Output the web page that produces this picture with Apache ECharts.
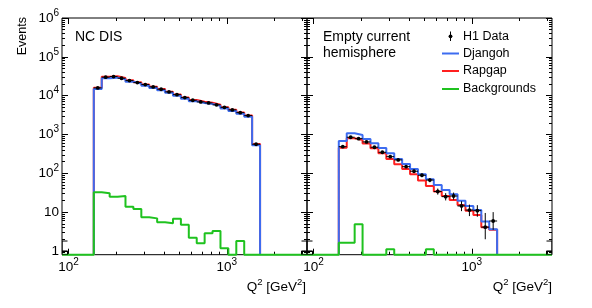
<!DOCTYPE html>
<html><head><meta charset="utf-8">
<script src="https://cdn.jsdelivr.net/npm/echarts@6/dist/echarts.min.js"></script>
<style>html,body{margin:0;padding:0;background:#fff}#c{width:592px;height:308px}</style>
</head><body><div id="c"></div>
<script>
// ---------- data ----------
const binEdges = [144.5,162.2,182.0,204.2,229.1,257.0,288.4,323.6,363.1,407.4,457.1,512.9,575.4,645.7,724.4,812.8,912.0,1023,1148,1288,1445,1622];
// Panel 1: NC DIS
const ncData    = [15800,29900,31000,28100,24400,21700,19300,16800,14600,12500,10600,8900,7600,6900,6500,5800,5000,4300,3650,3060,560];
const ncErr     = [130,170,180,170,160,150,140,130,120,110,100,95,87,83,80,76,71,66,60,55,24];
const ncDjangoh = [14900,28100,29100,26400,22900,20400,18100,15800,13700,11800,9960,8370,7140,6490,6110,5450,4700,4040,3430,2880,530];
const ncRapgap  = [16000,30500,31500,28500,24800,22000,19500,17000,14800,12600,10700,9000,7700,7000,6550,5850,5050,4350,3700,3100,565];
const ncBkg     = [32.5,30.6,25,26,13.8,12,7.4,6.9,5.5,5.2,6.7,4.7,2.2,1.57,2.85,3.27,1.17,0,1.8,0,0];
// Panel 2: empty current hemisphere
const echData    = [485,849,781,643,469,348,268,221,148,113,89,67,34,25,26,14.4,11.3,10.9,4.1,5.9];
const echErrLo   = [22,29,28,25,22,19,16,15,12,11,9.4,8.2,5.8,5,5.1,3.8,3.4,3.3,2.1,2.4];
const echErrHi   = [22,29,28,25,22,19,16,15,12,11,9.4,8.2,6.5,5.8,5.9,4.6,4.3,4.2,5.4,4.1];
const echDjangoh = [681,1076,973,767,594,450,328,234,174,129,94,70,50,37,29,19.7,14.4,11.3,5.7,3.6];
const echRapgap  = [455,800,722,581,442,328,234,171,129,94,65,47,34,26,20.6,15.3,10.9,8.4,4.1,3.5];
const echBkg     = [1.63,1.63,4.9,0,0,0,1.1,0,0,0,0,1.1,0,0,0,0,0,0,0,0];
// axes
const xMin = 91, xMax = 3210, yMin = 0.8, yMax = 1e6;
const xMajor = [100, 1000];
const xMinor = [200,300,400,500,600,700,800,900,2000,3000];
const yMajor = [1,10,100,1000,10000,100000,1000000];
const yMinor = [0.9];
for (let d = 1; d <= 100000; d *= 10) for (let k = 2; k <= 9; k++) yMinor.push(k * d);

const BLUE = '#3d6cf0', RED = '#ff1f1f', GREEN = '#1fc21f';
const FONT = '"Liberation Sans", Arial, Helvetica, sans-serif';

function stepLine(vals, extendFloor) {
  const pts = [];
  if (extendFloor) pts.push([xMin, yMin]);
  pts.push([binEdges[0], yMin]);
  for (let i = 0; i < vals.length; i++) {
    const v = vals[i] > 0 ? vals[i] : yMin;
    pts.push([binEdges[i], v], [binEdges[i + 1], v]);
  }
  pts.push([binEdges[vals.length], yMin]);
  if (extendFloor) pts.push([xMax, yMin]);
  return pts;
}
function pointData(vals, lo, hi) {
  return vals.map((v, i) => [binEdges[i], binEdges[i + 1], v, v - lo[i], v + hi[i], Math.sqrt(binEdges[i] * binEdges[i + 1])]);
}

function labelFmt(v) {
  const e = Math.round(Math.log10(v));
  if (e === 0) return '{b|1}';
  if (e === 1) return '{b|10}';
  return '{b|10}{s|' + e + '}';
}
const labelRich = {
  b: { fontSize: 13.5, fontFamily: FONT, color: '#000', lineHeight: 20 },
  s: { fontSize: 10, fontFamily: FONT, color: '#000', lineHeight: 10, verticalAlign: 'top' }
};

const grids = [
  { left: 62, top: 18, width: 245, height: 236.7, show: true, borderColor: '#000', borderWidth: 1 },
  { left: 307, top: 18, width: 245, height: 236.7, show: true, borderColor: '#000', borderWidth: 1 }
];
const xAxes = [], yAxes = [];
function tickAxis(kind, g, pos, vals, len, labels) {
  const ax = {
    type: 'log', gridIndex: g, position: pos,
    min: kind === 'x' ? xMin : yMin, max: kind === 'x' ? xMax : yMax,
    axisLine: { show: false }, splitLine: { show: false },
    axisTick: { show: true, inside: true, length: len, customValues: vals, lineStyle: { color: '#000', width: 1 } },
    axisLabel: labels ? { show: true, customValues: vals, formatter: labelFmt, rich: labelRich, margin: 3 } : { show: false }
  };
  (kind === 'x' ? xAxes : yAxes).push(ax);
  return (kind === 'x' ? xAxes : yAxes).length - 1;
}
const axIdx = [];
for (let g = 0; g < 2; g++) {
  const xb = tickAxis('x', g, 'bottom', xMajor, 6, true);
  tickAxis('x', g, 'bottom', xMinor, 3, false);
  tickAxis('x', g, 'top', xMajor, 6, false);
  tickAxis('x', g, 'top', xMinor, 3, false);
  const yl = tickAxis('y', g, 'left', yMajor, 6, g === 0);
  tickAxis('y', g, 'left', yMinor, 3, false);
  tickAxis('y', g, 'right', yMajor, 6, false);
  tickAxis('y', g, 'right', yMinor, 3, false);
  axIdx.push({ x: xb, y: yl });
}

function lineSeries(g, vals, color, extend, z) {
  return {
    type: 'line', xAxisIndex: axIdx[g].x, yAxisIndex: axIdx[g].y,
    data: stepLine(vals, extend), showSymbol: false, symbol: 'none', clip: false,
    lineStyle: { color: color, width: 2 }, z: z, silent: true, animation: false
  };
}
function pointSeries(g, data) {
  return {
    type: 'custom', xAxisIndex: axIdx[g].x, yAxisIndex: axIdx[g].y, z: 10, animation: false,
    encode: { x: [0, 1, 5], y: [2, 3, 4] },
    data: data,
    renderItem: function (params, api) {
      const y = api.value(2), xc = api.value(5);
      const pL = api.coord([api.value(0), y]), pR = api.coord([api.value(1), y]);
      const pLo = api.coord([xc, api.value(3)]), pHi = api.coord([xc, api.value(4)]);
      const pc = api.coord([xc, y]);
      const st = { stroke: '#000', lineWidth: 1 };
      return { type: 'group', children: [
        { type: 'line', shape: { x1: pL[0], y1: pL[1], x2: pR[0], y2: pR[1] }, style: st },
        { type: 'line', shape: { x1: pLo[0], y1: pLo[1], x2: pHi[0], y2: pHi[1] }, style: st },
        { type: 'circle', shape: { cx: pc[0], cy: pc[1], r: 1.9 }, style: { fill: '#000' } }
      ] };
    }
  };
}
function cornerSeries(g) {
  return {
    type: 'custom', xAxisIndex: axIdx[g].x, yAxisIndex: axIdx[g].y, z: 9, clip: true, animation: false,
    data: [[xMin, 1.0, 1.8], [xMax, 1.0, 1.8]],
    renderItem: function (params, api) {
      const x = api.value(0);
      const pb = api.coord([x, yMin]), pbox = api.coord([x, api.value(1)]), pt = api.coord([x, api.value(2)]);
      const st = { stroke: '#000', lineWidth: 1, fill: 'none' };
      return { type: 'group', children: [
        { type: 'line', shape: { x1: pb[0], y1: pb[1], x2: pt[0], y2: pt[1] }, style: st },
        { type: 'line', shape: { x1: pt[0] - 5.5, y1: pt[1], x2: pt[0] + 5.5, y2: pt[1] }, style: st },
        { type: 'rect', shape: { x: pb[0] - 5.5, y: pbox[1], width: 11, height: pb[1] - pbox[1] }, style: st }
      ] };
    }
  };
}

const series = [
  lineSeries(0, ncRapgap, RED, false, 2),
  lineSeries(0, ncDjangoh, BLUE, false, 3),
  lineSeries(0, ncBkg, GREEN, true, 4),
  cornerSeries(0),
  pointSeries(0, pointData(ncData, ncErr, ncErr)),
  lineSeries(1, echRapgap, RED, false, 2),
  lineSeries(1, echDjangoh, BLUE, false, 3),
  lineSeries(1, echBkg, GREEN, true, 4),
  cornerSeries(1),
  pointSeries(1, pointData(echData, echErrLo, echErrHi))
];

function txt(x, y, text, size, align, extra) {
  return Object.assign({ type: 'text', x: x, y: y, silent: true,
    style: { text: text, font: size + 'px ' + FONT, fill: '#000', align: align || 'left', verticalAlign: 'middle' } }, extra || {});
}
function qTitle(x) {
  return { type: 'text', x: x, y: 287, silent: true,
    style: { text: 'Q{s|2} [GeV{s|2}]', font: '13.5px ' + FONT, fill: '#000', align: 'right', verticalAlign: 'middle', lineHeight: 20,
      rich: { s: { fontSize: 9.5, fontFamily: FONT, fill: '#000', lineHeight: 10, verticalAlign: 'top' } } } };
}
const graphic = [
  txt(75, 36.7, 'NC DIS', 14),
  txt(323, 36.7, 'Empty current', 14),
  txt(323, 53.3, 'hemisphere', 14),
  txt(463, 36.5, 'H1 Data', 12.5),
  txt(463, 53.5, 'Djangoh', 12.5),
  txt(463, 71, 'Rapgap', 12.5),
  txt(463, 89, 'Backgrounds', 12.5),
  { type: 'line', shape: { x1: 450.5, y1: 31.5, x2: 450.5, y2: 41 }, style: { stroke: '#000', lineWidth: 1 } },
  { type: 'circle', shape: { cx: 450.5, cy: 36.3, r: 1.9 }, style: { fill: '#000' } },
  { type: 'line', shape: { x1: 442, y1: 53.5, x2: 459, y2: 53.5 }, style: { stroke: BLUE, lineWidth: 2 } },
  { type: 'line', shape: { x1: 442, y1: 71, x2: 459, y2: 71 }, style: { stroke: RED, lineWidth: 2 } },
  { type: 'line', shape: { x1: 442, y1: 89, x2: 459, y2: 89 }, style: { stroke: GREEN, lineWidth: 2 } },
  txt(23, 17, 'Events', 12.5, 'right', { rotation: Math.PI / 2 }),
  qTitle(306),
  qTitle(552)
];

const chart = echarts.init(document.getElementById('c'), null, { renderer: 'canvas' });
chart.setOption({
  animation: false,
  backgroundColor: '#fff',
  grid: grids, xAxis: xAxes, yAxis: yAxes, series: series, graphic: graphic
});
</script></body></html>
